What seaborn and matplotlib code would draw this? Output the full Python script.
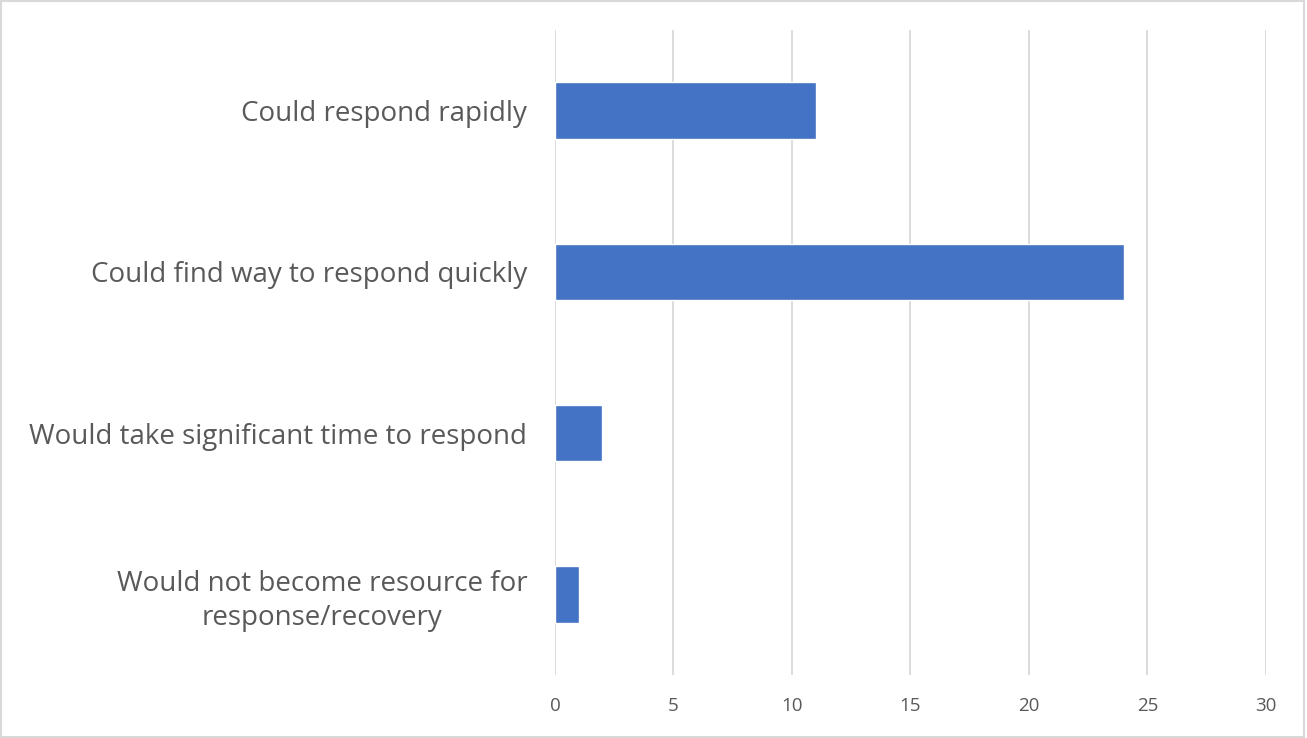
import matplotlib
matplotlib.use("Agg")
import matplotlib.pyplot as plt
import seaborn as sns
import pandas as pd
from matplotlib.patches import Rectangle

categories = [
    "Could respond rapidly",
    "Could find way to respond quickly",
    "Would take significant time to respond",
    "Would not become resource for\nresponse/recovery",
]
counts = [11, 24, 2, 1]

df = pd.DataFrame({"Response": categories, "Count": counts})

sns.set_style("white")
plt.rcParams["font.family"] = ["Open Sans", "DejaVu Sans"]

fig = plt.figure(figsize=(13.07, 7.38), dpi=100)
ax = fig.add_axes([0.4246, 0.0854, 0.9686 - 0.4246, 0.9593 - 0.0854])

sns.barplot(data=df, x="Count", y="Response", color="#4472C4", saturation=1,
            width=0.35, ax=ax, orient="h")

ax.set_xlim(0, 30)
ax.set_xticks(range(0, 31, 5))
ax.grid(axis="x", color="#D9D9D9", linewidth=1.3)
ax.set_axisbelow(True)
for s in ax.spines.values():
    s.set_visible(False)
ax.set_xlabel("")
ax.set_ylabel("")
ax.tick_params(axis="x", labelsize=13.5, colors="#595959", length=0, pad=16)
ax.tick_params(axis="y", labelsize=20, colors="#595959", length=0, pad=20)
for lbl in ax.get_yticklabels():
    lbl.set_horizontalalignment("right")
    lbl.set_multialignment("center")
    lbl.set_linespacing(1.3)

# chart border
fig.patches.append(Rectangle((0.001, 0.001), 0.997, 0.997, transform=fig.transFigure,
                             fill=False, edgecolor="#D9D9D9", linewidth=1.5))

fig.savefig("out.png", dpi=100)
